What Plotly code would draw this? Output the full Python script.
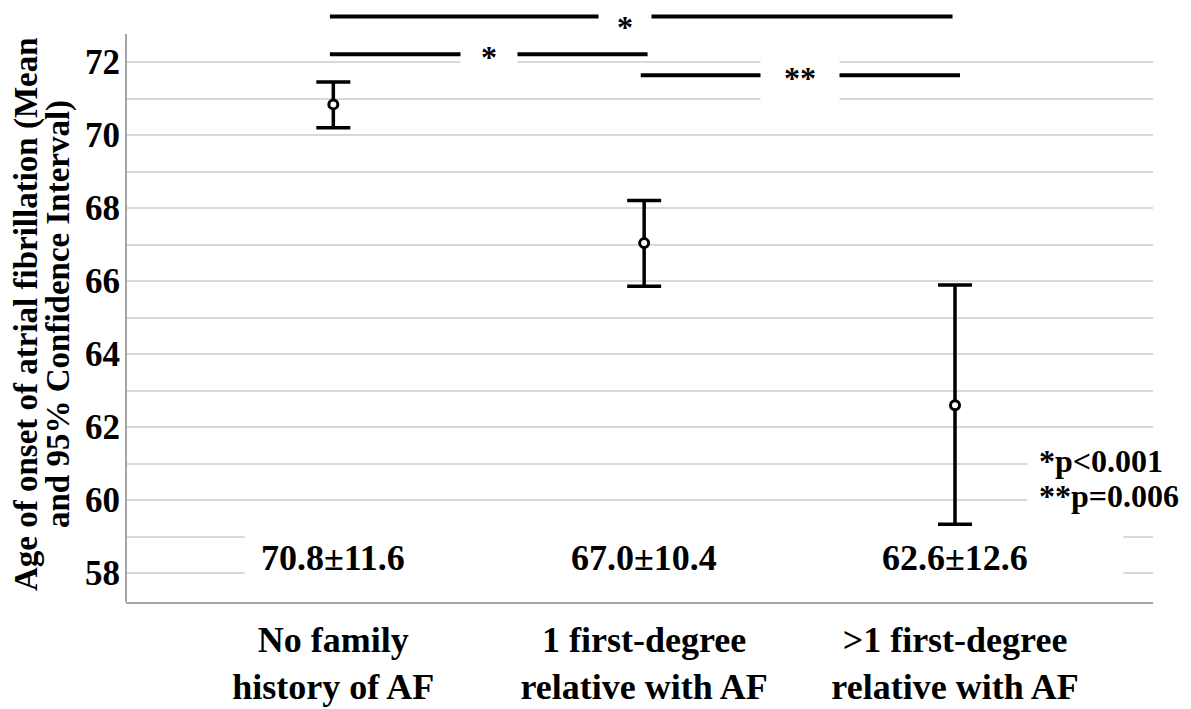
import plotly.graph_objects as go

# ---- data ----
groups = ["No family<br>history of AF", "1 first-degree<br>relative with AF", ">1 first-degree<br>relative with AF"]
group_pos = [0, 1, 2]
means = [70.84, 67.04, 62.60]
ci_upper = [71.45, 68.21, 65.89]
ci_lower = [70.20, 65.86, 59.34]
mean_labels = ["70.8±11.6", "67.0±10.4", "62.6±12.6"]
y_ticks = [58, 60, 62, 64, 66, 68, 70, 72]
y_minor = [59, 61, 63, 65, 67, 69, 71]
y_title_lines = ["Age of onset of atrial fibrillation (Mean", "and 95% Confidence Interval)"]
# significance brackets: (x start, x end, y level, star x, label, box w, box h)
brackets = [
    (-0.011, 1.992, 73.25, 0.937, "*", 52, None),
    (-0.011, 1.011, 72.21, 0.5, "*", 54, 30),
    (0.989, 2.016, 71.64, 1.502, "**", 76, 50),
]
p_notes = [("*p<0.001", 61.06), ("**p=0.006", 60.10)]

FONT = "Liberation Serif, Times New Roman, serif"
XR = [-0.667, 2.637]
YR = [57.21, 73.48]
Y_AXIS_TOP = 72.77
L_MARGIN, R_MARGIN = 118, 46
PLOT_W = 1191 - L_MARGIN - R_MARGIN
PAGE_OFF = 8

err_plus = [u - m for u, m in zip(ci_upper, means)]
err_minus = [m - l for m, l in zip(means, ci_lower)]

fig = go.Figure()
fig.add_trace(go.Scatter(
    x=group_pos, y=means, mode="markers",
    marker=dict(size=9, color="white", line=dict(color="black", width=3)),
    error_y=dict(type="data", symmetric=False, array=err_plus, arrayminus=err_minus,
                 color="black", thickness=3.5, width=17),
    showlegend=False, hoverinfo="skip",
))

shapes = []
# left axis line
shapes.append(dict(type="line", xref="paper", yref="y", x0=0, x1=0, y0=YR[0], y1=Y_AXIS_TOP,
                   line=dict(color="#a6a6a6", width=2), layer="above"))
# white panel behind mean labels
shapes.append(dict(type="rect", xref="x", yref="y", x0=-0.285, x1=2.542, y0=57.5, y1=59.2,
                   fillcolor="white", line=dict(width=0), layer="above"))
# white panel behind p-value notes
shapes.append(dict(type="rect", xref="x", yref="y", x0=2.233, x1=XR[1], y0=59.6, y1=61.35,
                   fillcolor="white", line=dict(width=0), layer="above"))

annotations = []
star_font = dict(family=FONT, size=32, color="black", weight="bold")
for x0, x1, yl, sx, lab, bw, bh in brackets:
    shapes.append(dict(type="line", xref="x", yref="y", x0=x0, x1=x1, y0=yl, y1=yl,
                       line=dict(color="black", width=4), layer="above"))
    if bh is None:
        # top bracket: anchor the label box to the top edge so it stays inside the figure
        annotations.append(dict(x=sx, y=1, xref="x", yref="paper", yanchor="top", text=lab,
                                showarrow=False, bgcolor="white", width=bw, borderpad=0,
                                font=star_font))
    else:
        annotations.append(dict(x=sx, y=yl, xref="x", yref="y", text=lab, showarrow=False,
                                bgcolor="white", width=bw, height=bh, font=star_font, yshift=-3))

for x, lab in zip(group_pos, mean_labels):
    annotations.append(dict(x=x, y=58.41, xref="x", yref="y", text=lab, showarrow=False,
                            font=dict(family=FONT, size=36, color="black", weight="bold")))

for lab, yv in p_notes:
    annotations.append(dict(x=2.265, y=yv, xref="x", yref="y", text=lab, showarrow=False,
                            xanchor="left",
                            font=dict(family=FONT, size=32, color="black", weight="bold")))

# y-axis title as two tightly spaced rotated lines
for px, line in zip([26, 58], y_title_lines):
    annotations.append(dict(x=(px - PAGE_OFF - L_MARGIN) / PLOT_W, y=0.5, xref="paper", yref="paper",
                            text=line, textangle=-90, showarrow=False,
                            xanchor="center", yanchor="middle", yshift=-9,
                            font=dict(family=FONT, size=33, color="black", weight="bold")))

fig.update_layout(
    width=1191, height=709,
    margin=dict(l=L_MARGIN, r=R_MARGIN, t=0, b=115),
    paper_bgcolor="white", plot_bgcolor="white",
    shapes=shapes, annotations=annotations,
    xaxis=dict(range=XR, tickvals=group_pos, ticktext=groups, showgrid=False, zeroline=False,
               showline=True, linecolor="#a6a6a6", linewidth=2, ticks="", automargin=False,
               tickfont=dict(family=FONT, size=36, color="black", weight="bold"),
               ticklabelstandoff=5),
    yaxis=dict(range=YR, tickvals=y_ticks, ticktext=[str(v) for v in y_ticks],
               showgrid=True, gridcolor="#d9d9d9", gridwidth=1.5, zeroline=False,
               showline=False, ticks="", automargin=False, ticklabelstandoff=5,
               minor=dict(tickvals=y_minor, showgrid=True, gridcolor="#d9d9d9", gridwidth=1.5),
               tickfont=dict(family=FONT, size=35, color="black", weight="bold")),
)

fig.write_html("out.html")
